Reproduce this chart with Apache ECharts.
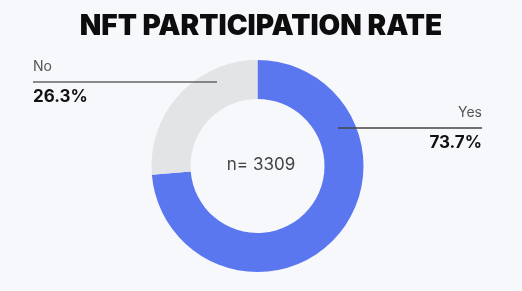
<!DOCTYPE html>
<html>
<head>
<meta charset="utf-8">
<script src="https://cdn.jsdelivr.net/npm/echarts@6/dist/echarts.min.js"></script>
<style>
html,body{margin:0;padding:0;background:#f7f8fc;}
#c{width:522px;height:291px;}
</style>
</head>
<body>
<div id="c"></div>
<script>
var categories = ['Yes', 'No'];
var values = [73.7, 26.3];
var sampleSize = 3309;
var titleText = 'NFT PARTICIPATION RATE';

var chart = echarts.init(document.getElementById('c'), null, {renderer: 'canvas'});
var pct = function (v) { return v.toFixed(1) + '%'; };

chart.setOption({
  backgroundColor: '#f7f8fc',
  animation: false,
  title: {
    text: titleText,
    left: 'center',
    top: 8,
    textStyle: {fontFamily: 'Inter', fontWeight: 900, fontSize: 28, color: '#0d0d0d'}
  },
  series: [{
    type: 'pie',
    center: [257.5, 166],
    radius: [67, 106],
    startAngle: 90,
    clockwise: true,
    silent: true,
    z: 1,
    label: {show: false},
    labelLine: {show: false},
    color: ['#5b77f0', '#e2e4e6'],
    data: categories.map(function (c, i) { return {name: c, value: values[i]}; })
  }],
  graphic: {
    elements: [
      {type: 'text', z: 100, left: 'center', top: 156, style: {text: 'n= ' + sampleSize, font: '17px Inter', fill: '#444'}},
      {type: 'line', z: 100, shape: {x1: 33, y1: 82, x2: 217, y2: 82}, style: {stroke: '#666', lineWidth: 1.5}},
      {type: 'text', z: 100, x: 33, y: 67, style: {text: categories[1], font: '14px Inter', fill: '#555', textVerticalAlign: 'middle'}},
      {type: 'text', z: 100, x: 33, y: 97, style: {text: pct(values[1]), font: 'bold 17px Inter', fill: '#111', textVerticalAlign: 'middle'}},
      {type: 'line', z: 100, shape: {x1: 338, y1: 128, x2: 482, y2: 128}, style: {stroke: '#444', lineWidth: 1.5}},
      {type: 'text', z: 100, x: 482, y: 113, style: {text: categories[0], font: '14px Inter', fill: '#555', textAlign: 'right', textVerticalAlign: 'middle'}},
      {type: 'text', z: 100, x: 482, y: 143, style: {text: pct(values[0]), font: 'bold 17px Inter', fill: '#111', textAlign: 'right', textVerticalAlign: 'middle'}}
    ]
  }
});
</script>
</body>
</html>
